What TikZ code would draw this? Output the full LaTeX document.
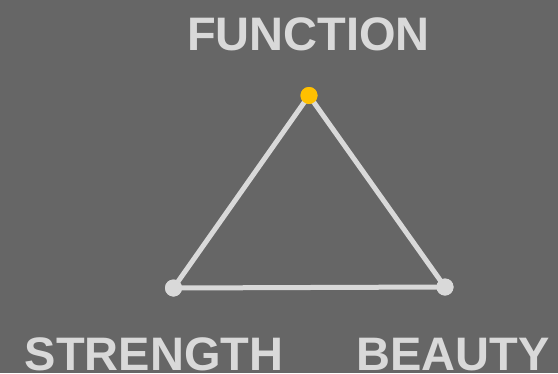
\documentclass[tikz,border=0pt]{standalone}
\usepackage{fontspec}
\setmainfont{Liberation Sans}
\usetikzlibrary{positioning}
\definecolor{bggray}{HTML}{666666}
\definecolor{lightline}{HTML}{D9D9D9}
\definecolor{topgold}{HTML}{FFC000}

\begin{document}
\begin{tikzpicture}[
  x=1pt, y=-1pt,
  corner/.style={circle, draw=none, fill=lightline, minimum size=17pt, inner sep=0pt},
  apex/.style={corner, fill=topgold},
  nametag/.style={anchor=base, inner sep=0pt, text=lightline,
    font=\fontsize{47}{47}\selectfont\bfseries},
  side/.style={line width=5pt, lightline},
]
  % Background
  \fill[bggray] (0,0) rectangle (558,373);
  \useasboundingbox (0,0) rectangle (558,373);

  % Corners
  \node[corner] (strength) at (173.5,288) {};
  \node[corner] (beauty) at (445,287) {};
  \node[apex] (function) at (309,95.5) {};

  % Sides
  \draw[side] (strength.center) -- (beauty.center);
  \draw[side] (beauty.center) -- (function.center);
  \draw[side] (function.center) -- (strength.center);

  % Redraw corners on top
  \node[corner] at (strength) {};
  \node[corner] at (beauty) {};
  \node[apex] at (function) {};

  % Labels
  \node[nametag] (functionlbl) at (308.5,50) {FUNCTION};
  \node[nametag] (strengthlbl) at (154,370) {STRENGTH};
  \node[nametag] (beautylbl) at (453,370) {BEAUTY};
\end{tikzpicture}
\end{document}
